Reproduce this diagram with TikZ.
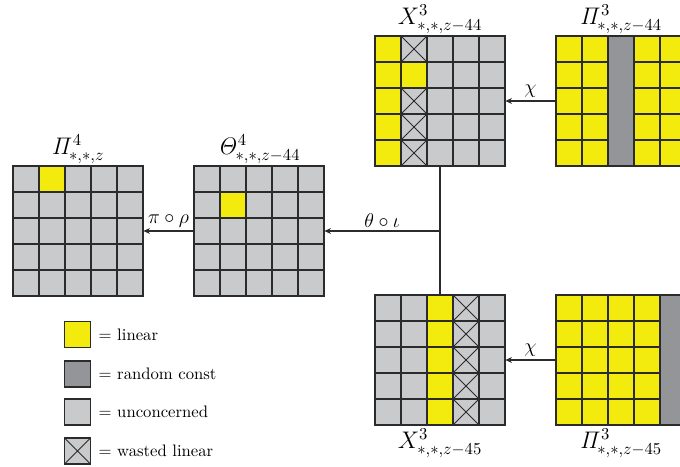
\documentclass[tikz,border=0pt]{standalone}
\usepackage{amsmath,amssymb}
\usepackage{tikz}
\usetikzlibrary{positioning,arrows.meta}
\definecolor{lin}{RGB}{243,234,14}
\definecolor{rnd}{RGB}{147,149,152}
\definecolor{uncon}{RGB}{200,202,204}
\definecolor{edge}{RGB}{43,43,43}
\tikzset{
  cell/.style={draw=edge, line width=0.8pt},
  wasted/.style={cell, fill=uncon, path picture={
      \draw[edge, line width=0.5pt] (path picture bounding box.north west) -- (path picture bounding box.south east)
        (path picture bounding box.south west) -- (path picture bounding box.north east);}},
  gridframe/.style={minimum size=78pt, inner sep=0pt},
  legbox/.style={cell, minimum size=15.6pt, inner sep=0pt},
  title/.style={font=\Large, inner sep=1pt},
  link/.style={edge, line width=0.8pt},
  linklab/.style={font=\large, black, inner sep=2pt},
}

\begin{document}
\begin{tikzpicture}[x=0.6pt, y=-0.6pt, >={Stealth[length=4pt,width=3.5pt]}]
  \clip (0,0) rectangle (680,466);
  % grid frames
  \node[gridframe] (P4) at (78,231) {};
  \node[gridframe] (Th) at (259,231) {};
  \node[gridframe] (X44) at (440,101) {};
  \node[gridframe] (P44) at (621,101) {};
  \node[gridframe] (X45) at (440,360) {};
  \node[gridframe] (P45) at (621,360) {};
  % Pi^4 and Theta^4
  \foreach \l in {13,194}
    \foreach \c in {0,...,4}
      \foreach \r in {0,...,4}
        \draw[cell, fill=uncon] ({\l+26*\c},{166+26*\r}) rectangle +(26,26);
  \draw[cell, fill=lin] (39,166) rectangle +(26,26);
  \draw[cell, fill=lin] (220,192) rectangle +(26,26);
  % X^3 z-44
  \foreach \c in {0,...,4}
    \foreach \r in {0,...,4}
      \draw[cell, fill=uncon] ({375+26*\c},{36+26*\r}) rectangle +(26,26);
  \foreach \r in {0,...,4}
    \draw[cell, fill=lin] (375,{36+26*\r}) rectangle +(26,26);
  \foreach \r in {0,2,3,4}
    \draw[wasted] (401,{36+26*\r}) rectangle +(26,26);
  \draw[cell, fill=lin] (401,62) rectangle +(26,26);
  % Pi^3 z-44
  \foreach \c in {0,1,3,4}
    \foreach \r in {0,...,4}
      \draw[cell, fill=lin] ({556+26*\c},{36+26*\r}) rectangle +(26,26);
  \draw[cell, fill=rnd] (608,36) rectangle +(26,130);
  % X^3 z-45
  \foreach \c/\f in {0/uncon,1/uncon,2/lin,4/uncon}
    \foreach \r in {0,...,4}
      \draw[cell, fill=\f] ({375+26*\c},{295+26*\r}) rectangle +(26,26);
  \foreach \r in {0,...,4}
    \draw[wasted] (453,{295+26*\r}) rectangle +(26,26);
  % Pi^3 z-45
  \foreach \c in {0,...,3}
    \foreach \r in {0,...,4}
      \draw[cell, fill=lin] ({556+26*\c},{295+26*\r}) rectangle +(26,26);
  \draw[cell, fill=rnd] (660,295) rectangle +(26,130);
  % titles
  \node[title, above=0pt of P4] (tP4) {$\mathit{\Pi}^{4}_{*,*,z}$};
  \node[title, above=0pt of Th] (tTh) {$\mathit{\Theta}^{4}_{*,*,z-44}$};
  \node[title, above=0pt of X44] (tX44) {$X^{3}_{*,*,z-44}$};
  \node[title, above=0pt of P44] (tP44) {$\mathit{\Pi}^{3}_{*,*,z-44}$};
  \node[title, below=1pt of X45] (tX45) {$X^{3}_{*,*,z-45}$};
  \node[title, below=1pt of P45] (tP45) {$\mathit{\Pi}^{3}_{*,*,z-45}$};
  % connectors
  \coordinate (jn) at (440,231);
  \draw[link] (X44.south) -- (X45.north);
  \draw[link, ->] (P44.west) -- (X44.east) node[midway, above, linklab] (l1) {$\chi$};
  \draw[link, ->] (P45.west) -- (X45.east) node[midway, above, linklab] (l2) {$\chi$};
  \draw[link, ->] (jn) -- (Th.east) node[midway, above, linklab] (l3) {$\theta\circ\iota$};
  \draw[link, ->] (Th.west) -- (P4.east) node[midway, above, linklab] (l4) {$\pi\circ\rho$};
  % legend
  \node[legbox, fill=lin] (k1) at (77.5,334.5) {};
  \node[legbox, fill=rnd] (k2) at (77.5,374) {};
  \node[legbox, fill=uncon] (k3) at (77.5,412) {};
  \node[legbox, wasted] (k4) at (77.5,451) {};
  \node[right=1pt of k1] (t1) {$=$ linear};
  \node[right=1pt of k2] (t2) {$=$ random const};
  \node[right=1pt of k3] (t3) {$=$ unconcerned};
  \node[right=1pt of k4] (t4) {$=$ wasted linear};
\end{tikzpicture}
\end{document}
